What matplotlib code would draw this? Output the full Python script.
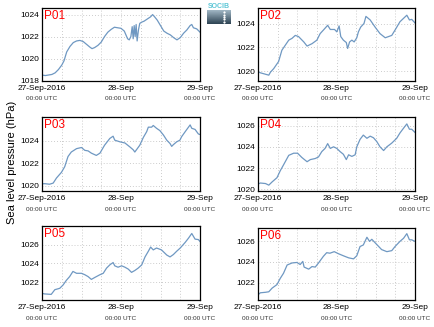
import numpy as np
import matplotlib
matplotlib.use('Agg')
import matplotlib.pyplot as plt

plt.rcParams['font.family'] = ['Liberation Sans', 'DejaVu Sans']

# hours since 27-Sep-2016 00:00 UTC and sea level pressure (hPa)
p01_h = [0, 1, 2, 3, 4, 5, 6, 6.7, 7.5, 8.5, 9.5, 10.5, 11.5, 12.5, 13.5, 14.5, 15.2, 16, 17, 18,
         19, 20, 21, 22, 23, 24, 25, 26, 26.5, 27, 27.4, 27.7, 28.0, 28.3, 28.6, 28.9, 29.3, 29.7,
         30.2, 31, 32, 33, 33.6, 34.2, 35, 36, 37, 38, 39, 40, 41, 42, 43, 44, 45, 45.5, 46, 47, 48]
p01_v = [1018.5, 1018.45, 1018.5, 1018.55, 1018.7, 1019.0, 1019.4, 1019.8, 1020.6, 1021.1,
         1021.45, 1021.6, 1021.65, 1021.55, 1021.3, 1021.05, 1020.9, 1021.0, 1021.2, 1021.5,
         1022.0, 1022.4, 1022.65, 1022.85, 1022.8, 1022.75, 1022.5, 1021.8, 1021.7, 1022.0,
         1022.9, 1021.8, 1023.0, 1022.0, 1023.1, 1021.6, 1022.6, 1023.2, 1023.3, 1023.4,
         1023.6, 1023.8, 1024.0, 1023.8, 1023.5, 1023.0, 1022.5, 1022.3, 1022.15, 1021.9,
         1021.7, 1021.9, 1022.3, 1022.6, 1023.0, 1023.1, 1022.8, 1022.7, 1022.4]

p02_h = [0, 0.7, 3.3, 3.8, 4.8, 6.3, 7.3, 9.4, 10.4, 11.4, 12.4, 14, 15, 16.5, 18, 19, 20, 21.3,
         22.1, 23.4, 24.1, 24.8, 25.3, 26.1, 27, 27.4, 28, 28.7, 29.4, 30.2, 30.7, 31.4, 32.4,
         33, 34.3, 35.8, 37.3, 38.9, 39.9, 40.9, 41.9, 43.4, 45.5, 46.3, 47, 48]
p02_v = [1019.95, 1019.85, 1019.65, 1019.9, 1020.2, 1020.8, 1021.75, 1022.6, 1022.75, 1023.0,
         1022.9, 1022.45, 1022.1, 1022.3, 1022.6, 1023.15, 1023.45, 1023.85, 1023.5, 1023.5,
         1023.3, 1023.8, 1022.9, 1022.6, 1022.4, 1021.9, 1022.45, 1022.6, 1022.45, 1022.8,
         1023.3, 1023.7, 1024.0, 1024.6, 1024.3, 1023.7, 1023.15, 1022.8, 1022.9, 1023.0,
         1023.45, 1024.15, 1024.7, 1024.3, 1024.35, 1024.05]

p03_h = [0, 0.8, 2.3, 3.4, 4.4, 5.9, 6.9, 7.9, 8.9, 10.5, 12, 13, 14, 15, 16.5, 17.6, 19, 20.6,
         21.6, 22.1, 23.7, 25.2, 26.7, 27.7, 28.2, 28.7, 29.7, 30.8, 31.8, 32.3, 33.3, 33.8,
         34.8, 35.8, 36.9, 37.9, 38.9, 39.4, 39.9, 40.9, 41.9, 42.4, 43.5, 45, 45.5, 46.5, 47.5, 48]
p03_v = [1020.18, 1020.2, 1020.15, 1020.25, 1020.7, 1021.2, 1021.7, 1022.6, 1023.0, 1023.3,
         1023.4, 1023.15, 1023.1, 1022.9, 1022.7, 1022.9, 1023.6, 1024.2, 1024.4, 1024.05,
         1023.9, 1023.8, 1023.45, 1023.2, 1023.0, 1023.2, 1023.6, 1024.3, 1024.8, 1025.2,
         1025.2, 1025.35, 1025.1, 1024.9, 1024.5, 1024.05, 1023.75, 1023.5, 1023.65, 1023.9,
         1024.05, 1024.35, 1024.8, 1025.4, 1025.1, 1025.0, 1024.6, 1024.55]

p04_h = [0, 0.7, 2.3, 3.3, 4.3, 5.8, 6.8, 7.8, 9.4, 10.9, 12.1, 13.4, 15, 16, 17.5, 18.5, 19.5,
         20.5, 21.3, 22.1, 23.1, 24.1, 25.1, 26.1, 27, 27.7, 28.7, 29.7, 30.2, 31.2, 32.2, 33.3,
         34.3, 35.3, 36.3, 37.3, 38.4, 39.4, 40.9, 42.4, 43.4, 44.5, 45.5, 46.3, 47, 48]
p04_v = [1020.5, 1020.6, 1020.55, 1020.4, 1020.7, 1021.1, 1021.75, 1022.3, 1023.2, 1023.4,
         1023.4, 1023.0, 1022.6, 1022.8, 1022.9, 1023.05, 1023.55, 1023.85, 1024.3, 1023.85,
         1024.0, 1023.85, 1023.55, 1023.3, 1022.8, 1023.25, 1023.1, 1023.25, 1024.0, 1024.7,
         1025.1, 1024.8, 1025.0, 1024.85, 1024.5, 1024.0, 1023.65, 1024.0, 1024.35, 1024.8,
         1025.3, 1025.75, 1026.15, 1025.65, 1025.65, 1025.35]

p05_h = [0, 0.8, 2.8, 3.9, 5.4, 6.4, 7.4, 8.4, 9.4, 10.5, 12, 13, 14, 15, 16, 17.6, 18.6, 19.6,
         20.6, 21.6, 22.1, 23.1, 24.2, 25.2, 26.2, 27.2, 28.2, 29.2, 30.3, 31.3, 32.3, 33,
         33.8, 34.8, 36.3, 37.9, 38.9, 39.9, 40.9, 42, 43.5, 44.5, 45.5, 46.5, 47.5, 48]
p05_v = [1020.8, 1020.75, 1020.7, 1021.2, 1021.35, 1021.7, 1022.2, 1022.6, 1023.15, 1022.95,
         1022.95, 1022.8, 1022.6, 1022.3, 1022.5, 1022.8, 1022.95, 1023.5, 1023.85, 1024.1,
         1023.75, 1023.6, 1023.75, 1023.6, 1023.4, 1023.05, 1023.25, 1023.5, 1023.85, 1024.7,
         1025.3, 1025.75, 1025.45, 1025.65, 1025.45, 1024.9, 1024.7, 1024.95, 1025.3, 1025.65,
         1026.25, 1026.7, 1027.2, 1026.6, 1026.55, 1026.35]

p06_h = [0, 0.7, 2.3, 3.3, 4.3, 5.8, 6.8, 7.8, 8.9, 10.4, 11.9, 12.9, 13.7, 14.1, 15.5, 16.5,
         17.5, 18.5, 20, 21, 22, 23.3, 24.6, 26.1, 27.7, 29.2, 30.2, 31.2, 32.2, 33.3, 34.1,
         34.8, 36.3, 37.8, 39.4, 40.9, 41.9, 43.4, 44.5, 45.5, 46.3, 47, 48]
p06_v = [1020.8, 1021.0, 1021.05, 1021.1, 1021.45, 1021.8, 1022.4, 1022.9, 1023.7, 1023.9,
         1023.95, 1023.75, 1024.05, 1023.5, 1023.3, 1023.55, 1023.5, 1023.9, 1024.55, 1024.9,
         1024.85, 1025.0, 1024.8, 1024.6, 1024.4, 1024.3, 1024.6, 1025.5, 1025.65, 1026.4,
         1026.0, 1026.2, 1025.7, 1025.2, 1025.0, 1025.1, 1025.5, 1026.0, 1026.3, 1026.75,
         1026.15, 1026.15, 1026.0]

names = ['P01', 'P02', 'P03', 'P04', 'P05', 'P06']
hours = [p01_h, p02_h, p03_h, p04_h, p05_h, p06_h]
values = [p01_v, p02_v, p03_v, p04_v, p05_v, p06_v]
ylims = [(1018, 1024.6), (1019.2, 1025.35), (1019.55, 1026.1),
         (1019.85, 1026.8), (1020.1, 1028.0), (1020.3, 1027.3)]
yticks = [[1018, 1020, 1022, 1024], [1020, 1022, 1024], [1020, 1022, 1024],
          [1020, 1022, 1024, 1026], [1022, 1024, 1026], [1022, 1024, 1026]]
xtick_top = ['27-Sep-2016', '28-Sep', '29-Sep']

W, H = 434, 327
# panel boxes in pixels: left, right, top, bottom
boxes = [(42, 200, 8, 80.5), (258, 415, 7.5, 80.5),
         (42, 200, 117, 191), (258, 415, 117, 191),
         (42, 200, 226, 300), (258, 415, 228, 300)]

fig = plt.figure(figsize=(W / 100, H / 100), dpi=100)

for i in range(6):
    l, r, t, b = boxes[i]
    ax = fig.add_axes([l / W, 1 - b / H, (r - l) / W, (b - t) / H])
    ax.plot(hours[i], values[i], color='#6f98c2', lw=0.9)
    ax.set_xlim(0, 48)
    ax.set_ylim(*ylims[i])
    ax.set_xticks([0, 24, 48])
    ax.set_xticks(np.arange(0, 49, 6), minor=True)
    ax.set_xticklabels(xtick_top, fontsize=6)
    ax.set_yticks(yticks[i])
    ax.set_yticklabels([str(v) for v in yticks[i]], fontsize=6)
    ax.grid(True, which='both', axis='x', color='#bbbbbb', ls=(0, (1, 2.5)), lw=0.6)
    ax.grid(True, which='major', axis='y', color='#bbbbbb', ls=(0, (1, 2.5)), lw=0.6)
    ax.tick_params(which='both', direction='in', length=0, pad=2)
    ax.tick_params(axis='x', pad=3.2)
    for s in ax.spines.values():
        s.set_linewidth(0.9)
    for x in [0, 24, 48]:
        ax.annotate('00:00 UTC', xy=(x, 0), xycoords=('data', 'axes fraction'),
                    xytext=(0, -11.5), textcoords='offset points',
                    ha='center', va='top', fontsize=4.6, color='#333333')
    ax.text(0.015, 0.97, names[i], transform=ax.transAxes, color='red',
            fontsize=8.5, ha='left', va='top')

fig.text(12 / W, 1 - 162 / H, 'Sea level pressure (hPa)', rotation=90,
         ha='center', va='center', fontsize=8)

# small SOCIB logo
lax = fig.add_axes([207 / W, 1 - 24 / H, 23 / W, 14 / H])
grad = np.linspace(0, 1, 20).reshape(-1, 1)
lax.imshow(grad, aspect='auto', cmap=matplotlib.colors.LinearSegmentedColormap.from_list(
    'logo', ['#9fb5c3', '#2f4555']), extent=[0, 1, 0, 1])
lax.plot([0.75] * 5, np.linspace(0.15, 0.85, 5), ls='none', marker='s', ms=0.6, color='white')
lax.axis('off')
fig.text(218.5 / W, 1 - 6 / H, 'SOCIB', color='#5cc6d6', fontsize=5,
         ha='center', va='center', fontweight='bold')

fig.savefig('out.png', dpi=100)
